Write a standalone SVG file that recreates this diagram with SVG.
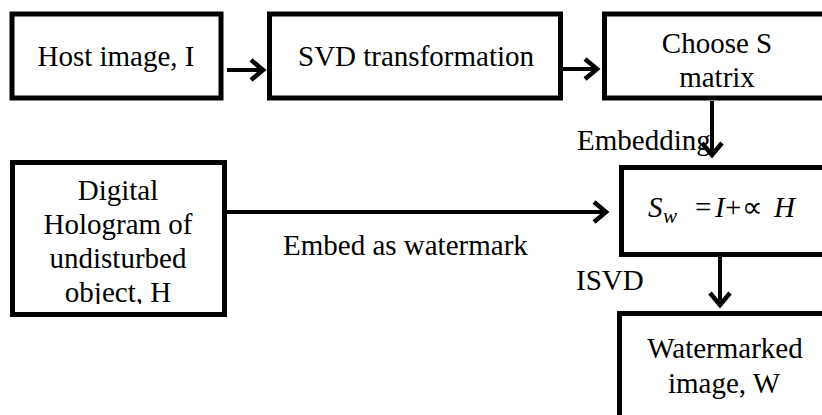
<svg xmlns="http://www.w3.org/2000/svg" width="822" height="415" viewBox="0 0 822 415">
  <style>
    .box { fill: #fff; stroke: #000; stroke-width: 5; }
    .t { font-family: "Liberation Serif", "Times New Roman", serif; font-size: 29px; fill: #000; }
    .c { text-anchor: middle; }
    .it { font-style: italic; }
    .wire { fill: none; stroke: #000; stroke-width: 4; }
  </style>
  <defs>
    <marker id="head" markerUnits="userSpaceOnUse" markerWidth="24" markerHeight="28" viewBox="-16 -14 22 28" refX="0" refY="0" orient="auto" overflow="visible">
      <path d="M-12,-10 L0,0 L-12,10" fill="none" stroke="#000" stroke-width="4.5"/>
    </marker>
    <clipPath id="holoClip">
      <rect x="15" y="165" width="207" height="139"/>
    </clipPath>
  </defs>
  <rect width="822" height="415" fill="#fff"/>

  <g id="connectors">
    <line class="wire" x1="227" y1="70" x2="263" y2="70" marker-end="url(#head)"/>
    <line class="wire" x1="563" y1="69" x2="597" y2="69" marker-end="url(#head)"/>
    <line class="wire" x1="712" y1="101" x2="712" y2="155" marker-end="url(#head)"/>
    <line class="wire" x1="226" y1="212" x2="606" y2="212" marker-end="url(#head)"/>
    <line class="wire" x1="720" y1="257" x2="720" y2="305" marker-end="url(#head)"/>
  </g>

  <g id="host-image">
    <rect class="box" x="12" y="14" width="209" height="84"/>
    <text class="t c" x="116" y="66">Host image, I</text>
  </g>

  <g id="svd-transformation">
    <rect class="box" x="269.5" y="14" width="291" height="84"/>
    <text class="t c" x="416" y="66">SVD transformation</text>
  </g>

  <g id="choose-s-matrix">
    <rect class="box" x="604.5" y="14" width="230" height="84"/>
    <text class="t c" x="717" y="53">Choose S</text>
    <text class="t c" x="717" y="87">matrix</text>
  </g>

  <g id="digital-hologram">
    <rect class="box" x="12.5" y="162.5" width="212" height="152"/>
    <g clip-path="url(#holoClip)">
      <text class="t c" x="118" y="200">Digital</text>
      <text class="t c" x="118" y="234">Hologram of</text>
      <text class="t c" x="118" y="268">undisturbed</text>
      <text class="t c" x="118" y="302">object, H</text>
    </g>
  </g>

  <g id="embedding-formula">
    <rect class="box" x="621.5" y="167.5" width="210" height="87"/>
    <text class="t" y="217" font-size="30"><tspan class="it" x="648">S</tspan><tspan class="it" x="663" y="223" font-size="21">w</tspan><tspan x="695" y="217">=</tspan><tspan class="it" x="715">I</tspan><tspan x="725">+</tspan><tspan x="742">∝</tspan><tspan class="it" x="774">H</tspan></text>
  </g>

  <g id="watermarked-image">
    <rect class="box" x="619.5" y="313.5" width="210" height="112"/>
    <text class="t c" x="725" y="358">Watermarked</text>
    <text class="t c" x="724" y="393">image, W</text>
  </g>

  <g id="labels">
    <text class="t" x="577" y="150">Embedding</text>
    <text class="t" x="283" y="255">Embed as watermark</text>
    <text class="t" x="576" y="290">ISVD</text>
  </g>
</svg>
